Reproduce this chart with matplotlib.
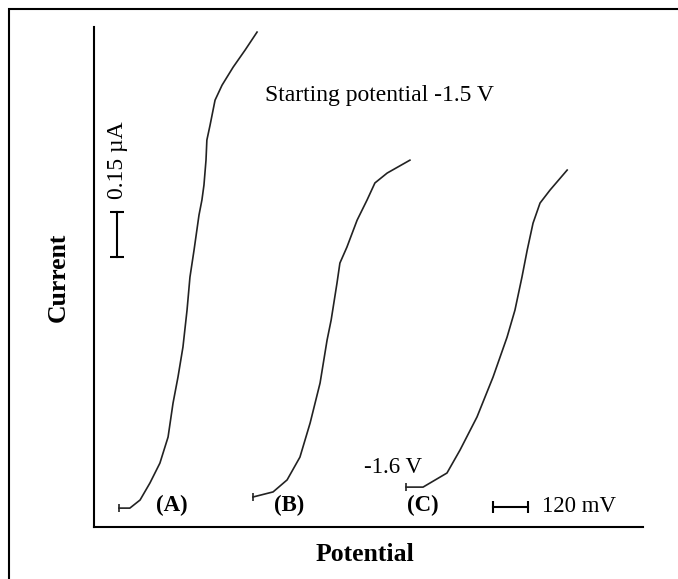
import matplotlib.pyplot as plt
from matplotlib.patches import Rectangle

plt.rcParams['font.family'] = ['Liberation Serif', 'DejaVu Serif']

# potential in mV (relative), current in uA
a_pot = [86, 123, 158, 192, 226, 254, 271, 288, 305, 319, 329, 343, 360, 370,
         377, 384, 387, 398, 415, 439, 477, 518, 559]
a_cur = [0.063, 0.063, 0.090, 0.147, 0.213, 0.300, 0.413, 0.500, 0.600, 0.723,
         0.833, 0.923, 1.040, 1.090, 1.140, 1.223, 1.290, 1.340, 1.423, 1.473,
         1.533, 1.590, 1.650]

b_pot = [545, 614, 662, 706, 741, 775, 799, 813, 833, 843, 867, 902, 936, 963,
         1005, 1083]
b_cur = [0.100, 0.117, 0.157, 0.233, 0.347, 0.480, 0.623, 0.690, 0.813, 0.880,
         0.933, 1.023, 1.090, 1.147, 1.180, 1.223]

c_pot = [1070, 1128, 1210, 1255, 1313, 1368, 1416, 1443, 1467, 1485, 1505,
         1529, 1563, 1622]
c_cur = [0.133, 0.133, 0.180, 0.257, 0.367, 0.500, 0.633, 0.723, 0.833, 0.923,
         1.013, 1.080, 1.123, 1.190]

labels = ['(A)', '(B)', '(C)']
label_pot = [267, 669, 1128]

fig = plt.figure(figsize=(6.78, 5.79), dpi=100)
ax = fig.add_axes([0.1386, 0.0898, 0.8098, 0.8636])

for px, py in [(a_pot, a_cur), (b_pot, b_cur), (c_pot, c_cur)]:
    ax.plot(px, py, color='#222222', lw=1.2, marker='|', markevery=[0],
            markersize=6, markeredgewidth=1.2)

for lab, xp in zip(labels, label_pot):
    ax.text(xp, 0.073, lab, ha='center', va='center', fontsize=16.5,
            fontweight='bold')

# scale bars
ax.plot([79, 79], [0.90, 1.05], color='black', lw=1.5, marker='_',
        markersize=10, markeredgewidth=1.5)
ax.text(79, 1.223, '0.15 µA', rotation=90, ha='center', va='center',
        fontsize=17)
ax.plot([1368, 1488], [0.067, 0.067], color='black', lw=1.5, marker='|',
        markersize=8, markeredgewidth=1.5)
ax.text(1536, 0.067, '120 mV', ha='left', va='center', fontsize=16.5)

ax.text(1125, 0.197, '-1.6 V', ha='right', va='center', fontsize=16.5)
ax.text(586, 1.44, 'Starting potential -1.5 V', ha='left', va='center',
        fontsize=17)

ax.set_xlim(0, 1882)
ax.set_ylim(0, 1.667)
ax.set_xticks([])
ax.set_yticks([])
for s in ['top', 'right']:
    ax.spines[s].set_visible(False)
for s in ['left', 'bottom']:
    ax.spines[s].set_linewidth(1.5)

fig.text(0.0855, 0.5216, 'Current', rotation=90, ha='center', va='center',
         fontsize=18.5, fontweight='bold')
fig.text(0.538, 0.0415, 'Potential', ha='center', va='center',
         fontsize=18.5, fontweight='bold')

# outer frame, cut off on the right and bottom
fig.patches.append(Rectangle((0.0133, -0.1), 1.2, 1.0845, fill=False,
                             lw=1.5, edgecolor='black',
                             transform=fig.transFigure, figure=fig))

fig.savefig('out.png', dpi=100)
